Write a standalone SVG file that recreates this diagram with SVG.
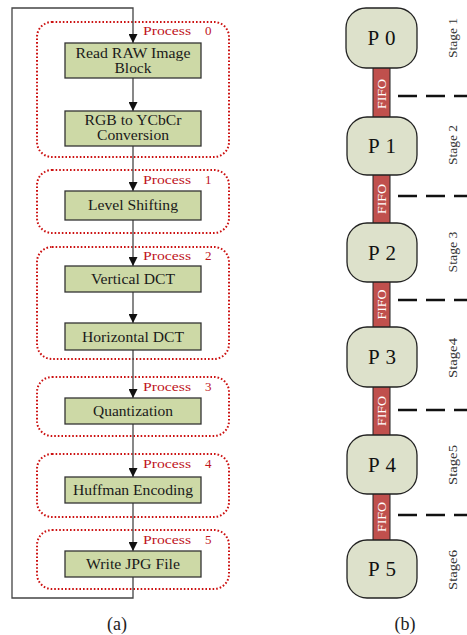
<svg xmlns="http://www.w3.org/2000/svg" width="467" height="635" viewBox="0 0 467 635">
  <style>
    .bg { fill: #ffffff; }
    .step { fill: #cdd9a6; stroke: #333333; stroke-width: 1.3; }
    .step-t { font-family: "Liberation Serif", "Times New Roman", Times, serif; font-size: 14px; fill: #1a1a1a; text-anchor: middle; }
    .group { fill: none; stroke: #cc1111; stroke-width: 2; stroke-dasharray: 1.6 2; }
    .group-t { font-family: "Liberation Serif", "Times New Roman", Times, serif; font-size: 13px; fill: #c0141c; }
    .flow { fill: none; stroke: #555555; stroke-width: 1.4; }
    .loop { fill: none; stroke: #444444; stroke-width: 1.3; }
    .proc { fill: #dde1cb; stroke: #222222; stroke-width: 1.3; }
    .proc-t { font-family: "Liberation Serif", "Times New Roman", Times, serif; font-size: 21px; letter-spacing: 6px; fill: #111111; text-anchor: middle; }
    .fifo { fill: #c0504d; stroke: #222222; stroke-width: 1; }
    .fifo-t { font-family: "Liberation Serif", "Times New Roman", Times, serif; font-size: 13.5px; fill: #ffffff; text-anchor: middle; }
    .stage-t { font-family: "Liberation Serif", "Times New Roman", Times, serif; font-size: 12.5px; fill: #333333; text-anchor: middle; }
    .divider { stroke: #111111; stroke-width: 2.5; stroke-dasharray: 19 9; }
    .caption { font-family: "Liberation Serif", "Times New Roman", Times, serif; font-size: 18px; fill: #222222; text-anchor: middle; }
  </style>
  <defs>
    <marker id="head" viewBox="0 0 10 10" refX="10" refY="5" markerWidth="9" markerHeight="9" markerUnits="userSpaceOnUse" orient="auto">
      <path d="M0,0 L10,5 L0,10 Z" fill="#111111"/>
    </marker>
  </defs>
  <rect class="bg" x="0" y="0" width="467" height="635"/>

  <!-- (a) process groups -->
  <g id="process0">
    <rect class="group" x="37" y="22" width="192" height="135" rx="15"/>
    <text class="group-t" x="143" y="35" textLength="48" lengthAdjust="spacingAndGlyphs">Process</text>
    <text class="group-t" x="205" y="35">0</text>
  </g>
  <g id="process1">
    <rect class="group" x="37" y="170" width="192" height="63" rx="15"/>
    <text class="group-t" x="143" y="184" textLength="48" lengthAdjust="spacingAndGlyphs">Process</text>
    <text class="group-t" x="205" y="184">1</text>
  </g>
  <g id="process2">
    <rect class="group" x="37" y="247" width="192" height="112" rx="15"/>
    <text class="group-t" x="143" y="260" textLength="48" lengthAdjust="spacingAndGlyphs">Process</text>
    <text class="group-t" x="205" y="260">2</text>
  </g>
  <g id="process3">
    <rect class="group" x="37" y="377" width="192" height="59" rx="15"/>
    <text class="group-t" x="143" y="391" textLength="48" lengthAdjust="spacingAndGlyphs">Process</text>
    <text class="group-t" x="205" y="391">3</text>
  </g>
  <g id="process4">
    <rect class="group" x="37" y="454" width="192" height="63" rx="15"/>
    <text class="group-t" x="143" y="468" textLength="48" lengthAdjust="spacingAndGlyphs">Process</text>
    <text class="group-t" x="205" y="468">4</text>
  </g>
  <g id="process5">
    <rect class="group" x="37" y="530" width="192" height="59" rx="15"/>
    <text class="group-t" x="143" y="544" textLength="48" lengthAdjust="spacingAndGlyphs">Process</text>
    <text class="group-t" x="205" y="544">5</text>
  </g>

  <!-- (a) flow connectors -->
  <g id="connectors-a">
    <path class="loop" d="M133,577 V598 H12 V8 H133 V43" marker-end="url(#head)"/>
    <path class="flow" d="M133,78 V111" marker-end="url(#head)"/>
    <path class="flow" d="M133,146 V191" marker-end="url(#head)"/>
    <path class="flow" d="M133,220 V266" marker-end="url(#head)"/>
    <path class="flow" d="M133,292 V323" marker-end="url(#head)"/>
    <path class="flow" d="M133,350 V398" marker-end="url(#head)"/>
    <path class="flow" d="M133,424 V477" marker-end="url(#head)"/>
    <path class="flow" d="M133,503 V551" marker-end="url(#head)"/>
  </g>

  <!-- (a) steps -->
  <g id="read-raw">
    <rect class="step" x="65" y="43" width="136" height="35"/>
    <text class="step-t" x="133" y="58" textLength="115" lengthAdjust="spacingAndGlyphs">Read RAW Image</text>
    <text class="step-t" x="133" y="73" textLength="37" lengthAdjust="spacingAndGlyphs">Block</text>
  </g>
  <g id="rgb-ycbcr">
    <rect class="step" x="65" y="111" width="136" height="35"/>
    <text class="step-t" x="133" y="125" textLength="97" lengthAdjust="spacingAndGlyphs">RGB to YCbCr</text>
    <text class="step-t" x="133" y="139.5" textLength="72" lengthAdjust="spacingAndGlyphs">Conversion</text>
  </g>
  <g id="level-shift">
    <rect class="step" x="65" y="191" width="136" height="29"/>
    <text class="step-t" x="133" y="210" textLength="90" lengthAdjust="spacingAndGlyphs">Level Shifting</text>
  </g>
  <g id="vertical-dct">
    <rect class="step" x="65" y="266" width="136" height="26"/>
    <text class="step-t" x="133" y="284" textLength="84" lengthAdjust="spacingAndGlyphs">Vertical DCT</text>
  </g>
  <g id="horizontal-dct">
    <rect class="step" x="65" y="323" width="136" height="27"/>
    <text class="step-t" x="133" y="341.5" textLength="102" lengthAdjust="spacingAndGlyphs">Horizontal DCT</text>
  </g>
  <g id="quantization">
    <rect class="step" x="65" y="398" width="136" height="26"/>
    <text class="step-t" x="133" y="416" textLength="80" lengthAdjust="spacingAndGlyphs">Quantization</text>
  </g>
  <g id="huffman">
    <rect class="step" x="65" y="477" width="136" height="26"/>
    <text class="step-t" x="133" y="495" textLength="120" lengthAdjust="spacingAndGlyphs">Huffman Encoding</text>
  </g>
  <g id="write-jpg">
    <rect class="step" x="65" y="551" width="136" height="26"/>
    <text class="step-t" x="133" y="569" textLength="94" lengthAdjust="spacingAndGlyphs">Write JPG File</text>
  </g>
  <text class="caption" x="117" y="630">(a)</text>

  <!-- (b) stage dividers -->
  <g id="connectors-b">
    <line class="divider" x1="398" y1="96" x2="467" y2="96"/>
    <line class="divider" x1="398" y1="196" x2="467" y2="196"/>
    <line class="divider" x1="398" y1="300" x2="467" y2="300"/>
    <line class="divider" x1="398" y1="410" x2="467" y2="410"/>
    <line class="divider" x1="398" y1="515" x2="467" y2="515"/>
  </g>

  <!-- (b) FIFO links -->
  <g id="fifo01">
    <rect class="fifo" x="373" y="67" width="17" height="51"/>
    <text class="fifo-t" transform="translate(386,94) rotate(-90)" textLength="30" lengthAdjust="spacingAndGlyphs">FIFO</text>
  </g>
  <g id="fifo12">
    <rect class="fifo" x="373" y="174" width="17" height="50"/>
    <text class="fifo-t" transform="translate(386,199) rotate(-90)" textLength="30" lengthAdjust="spacingAndGlyphs">FIFO</text>
  </g>
  <g id="fifo23">
    <rect class="fifo" x="373" y="281" width="17" height="47"/>
    <text class="fifo-t" transform="translate(386,304.5) rotate(-90)" textLength="30" lengthAdjust="spacingAndGlyphs">FIFO</text>
  </g>
  <g id="fifo34">
    <rect class="fifo" x="373" y="386" width="17" height="50"/>
    <text class="fifo-t" transform="translate(386,411) rotate(-90)" textLength="30" lengthAdjust="spacingAndGlyphs">FIFO</text>
  </g>
  <g id="fifo45">
    <rect class="fifo" x="373" y="493" width="17" height="48"/>
    <text class="fifo-t" transform="translate(386,517) rotate(-90)" textLength="30" lengthAdjust="spacingAndGlyphs">FIFO</text>
  </g>

  <!-- (b) pipeline processes -->
  <g id="p0">
    <rect class="proc" x="346" y="8" width="71" height="60" rx="20"/>
    <text class="proc-t" x="384.5" y="45">P0</text>
  </g>
  <g id="p1">
    <rect class="proc" x="347" y="117" width="70" height="58" rx="20"/>
    <text class="proc-t" x="385" y="153">P1</text>
  </g>
  <g id="p2">
    <rect class="proc" x="347" y="223" width="70" height="59" rx="20"/>
    <text class="proc-t" x="385" y="259.5">P2</text>
  </g>
  <g id="p3">
    <rect class="proc" x="347" y="327" width="70" height="60" rx="20"/>
    <text class="proc-t" x="385" y="364">P3</text>
  </g>
  <g id="p4">
    <rect class="proc" x="347" y="435" width="70" height="59" rx="20"/>
    <text class="proc-t" x="385" y="471.5">P4</text>
  </g>
  <g id="p5">
    <rect class="proc" x="347" y="540" width="70" height="58" rx="20"/>
    <text class="proc-t" x="385" y="576">P5</text>
  </g>

  <!-- (b) stage labels -->
  <g id="stages">
    <text class="stage-t" transform="translate(456.5,38) rotate(-90)" textLength="40" lengthAdjust="spacingAndGlyphs">Stage 1</text>
    <text class="stage-t" transform="translate(456.5,145) rotate(-90)" textLength="40" lengthAdjust="spacingAndGlyphs">Stage 2</text>
    <text class="stage-t" transform="translate(456.5,252) rotate(-90)" textLength="41" lengthAdjust="spacingAndGlyphs">Stage 3</text>
    <text class="stage-t" transform="translate(456.5,358) rotate(-90)" textLength="40" lengthAdjust="spacingAndGlyphs">Stage4</text>
    <text class="stage-t" transform="translate(456.5,465) rotate(-90)" textLength="40" lengthAdjust="spacingAndGlyphs">Stage5</text>
    <text class="stage-t" transform="translate(456.5,570) rotate(-90)" textLength="40" lengthAdjust="spacingAndGlyphs">Stage6</text>
  </g>
  <text class="caption" x="405" y="630">(b)</text>
</svg>
